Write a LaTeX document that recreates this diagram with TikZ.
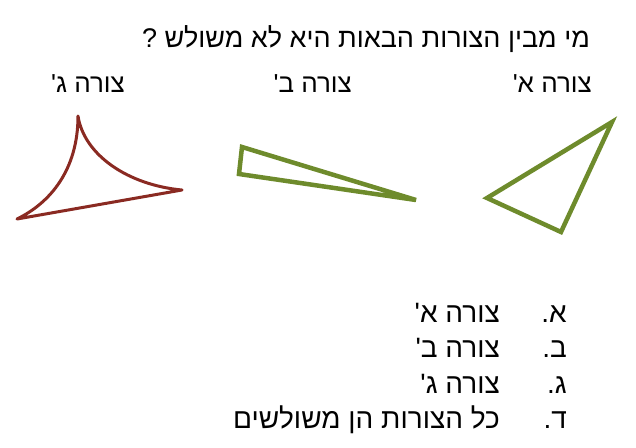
\documentclass[tikz,border=0pt]{standalone}
\usepackage{fontspec}
\setmainfont{Liberation Sans}
\newfontfamily\hebfont[Script=Hebrew]{Liberation Sans}
\TeXXeTstate=1
\definecolor{shapegreen}{HTML}{6E8B2C}
\definecolor{shapered}{HTML}{8A2A22}
\begin{document}
\begin{tikzpicture}[x=1pt,y=-1pt,
  titletext/.style={font=\hebfont\fontsize{27}{31}\selectfont, inner sep=0pt, anchor=base east},
  labeltext/.style={font=\hebfont\fontsize{26}{30}\selectfont, inner sep=0pt, anchor=base east},
  opttext/.style={font=\hebfont\fontsize{28}{32}\selectfont, inner sep=0pt, anchor=base east},
  greenshape/.style={draw=shapegreen, line width=4.5pt, line join=miter},
  redshape/.style={draw=shapered, line width=3pt, line join=round}]
\useasboundingbox (0,0) rectangle (636,447);
% title
\node[titletext] (title) at (590,47) {\beginR מי מבין הצורות הבאות היא לא משולש ?\endR};
% labels
\node[labeltext] (lc) at (125,92) {\beginR צורה ג'\endR};
\node[labeltext] (lb) at (352,92) {\beginR צורה ב'\endR};
\node[labeltext] (la) at (592,92) {\beginR צורה א'\endR};
% shape a
\coordinate (a1) at (612,122);
\coordinate (a2) at (487,198);
\coordinate (a3) at (561,232);
\draw[greenshape] (a1) -- (a2) -- (a3) -- cycle;
% shape b
\coordinate (b1) at (242,147);
\coordinate (b2) at (239,174);
\coordinate (b3) at (416,200);
\draw[greenshape] (b1) -- (b2) -- (b3) -- cycle;
% shape c
\coordinate (c1) at (78,116);
\coordinate (c2) at (182,190);
\coordinate (c3) at (17,219);
\draw[redshape] (c3) .. controls (50,203) and (78,170) .. (c1)
  .. controls (84,155) and (128,185) .. (c2) -- cycle;
% options
\node[opttext] (m1) at (567,322) {\beginR א.\endR};
\node[opttext] (t1) at (500,322) {\beginR צורה א'\endR};
\node[opttext] (m2) at (567,357.5) {\beginR ב.\endR};
\node[opttext] (t2) at (500,357.5) {\beginR צורה ב'\endR};
\node[opttext] (m3) at (567,393) {\beginR ג.\endR};
\node[opttext] (t3) at (500,393) {\beginR צורה ג'\endR};
\node[opttext] (m4) at (567,428.5) {\beginR ד.\endR};
\node[opttext] (t4) at (500,428.5) {\beginR כל הצורות הן משולשים\endR};
\end{tikzpicture}
\end{document}
